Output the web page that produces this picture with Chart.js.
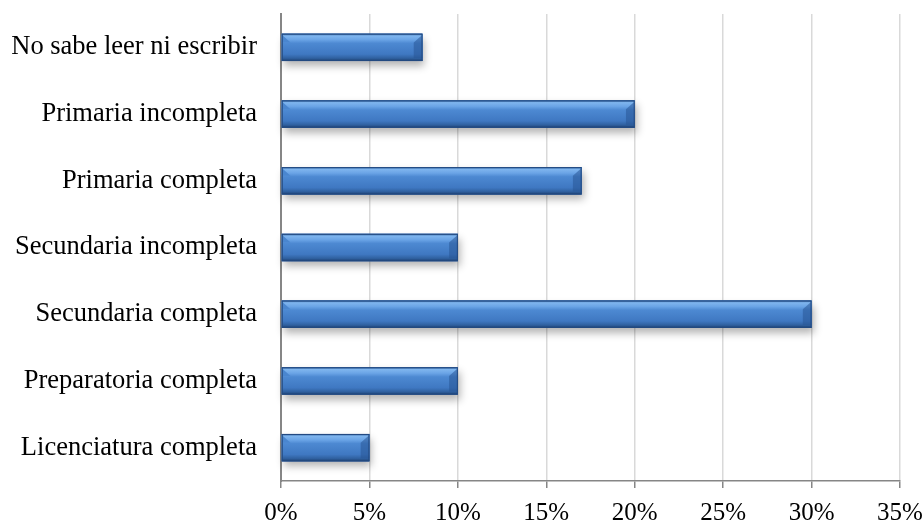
<!DOCTYPE html>
<html>
<head>
<meta charset="utf-8">
<script src="https://cdn.jsdelivr.net/npm/chart.js@4.4.0/dist/chart.umd.min.js"></script>
<style>
  html, body { margin: 0; padding: 0; background: #fff; }
  #wrap { width: 923px; height: 522px; position: relative; }
</style>
</head>
<body>
<div id="wrap"><canvas id="nivel"></canvas></div>
<script>
var categorias = ['No sabe leer ni escribir', 'Primaria incompleta', 'Primaria completa',
    'Secundaria incompleta', 'Secundaria completa', 'Preparatoria completa', 'Licenciatura completa'];
var porcentajes = [8, 20, 17, 10, 30, 10, 5];
var ticksX = [0, 5, 10, 15, 20, 25, 30, 35];

// bevel / gradient look for each bar, drawn over the library's own bar rects
var biselPlugin = {
    id: 'bisel',
    afterDatasetsDraw: function (chart) {
        var ctx = chart.ctx;
        var meta = chart.getDatasetMeta(0);
        meta.data.forEach(function (bar) {
            var x0 = bar.base, x1 = bar.x;
            var h = bar.height, y0 = bar.y - h / 2, y1 = bar.y + h / 2;
            var w = x1 - x0;
            ctx.save();
            ctx.shadowColor = 'rgba(0,0,0,0.3)';
            ctx.shadowBlur = 8;
            ctx.shadowOffsetX = 2;
            ctx.shadowOffsetY = 5;
            ctx.fillStyle = '#3f79c6';
            ctx.fillRect(x0, y0, w, h);
            ctx.restore();

            ctx.save();
            var g = ctx.createLinearGradient(0, y0, 0, y1);
            g.addColorStop(0, '#2a5a98');
            g.addColorStop(0.08, '#7fb5ee');
            g.addColorStop(0.22, '#6aa4e6');
            g.addColorStop(0.35, '#4d89d2');
            g.addColorStop(0.75, '#3f78c2');
            g.addColorStop(0.9, '#2f609f');
            g.addColorStop(1, '#1d3f70');
            ctx.fillStyle = g;
            ctx.fillRect(x0, y0, w, h);

            var b = Math.min(h * 0.32, w / 3);
            // left bevel: light strip starts on a diagonal
            ctx.fillStyle = '#4a86cf';
            ctx.beginPath();
            ctx.moveTo(x0, y0 + 1); ctx.lineTo(x0 + b, y0 + b); ctx.lineTo(x0, y0 + b);
            ctx.closePath(); ctx.fill();
            // right bevel band
            ctx.fillStyle = 'rgba(40,85,150,0.55)';
            ctx.beginPath();
            ctx.moveTo(x1, y0 + 1); ctx.lineTo(x1 - b, y0 + b); ctx.lineTo(x1 - b, y1 - 3); ctx.lineTo(x1, y1 - 3);
            ctx.closePath(); ctx.fill();

            ctx.strokeStyle = '#234a80';
            ctx.lineWidth = 1;
            ctx.strokeRect(x0 + 0.5, y0 + 0.5, w - 1, h - 1);
            ctx.restore();
        });
    }
};

var ctx = document.getElementById('nivel');
var grafico = new Chart(ctx, {
    type: 'bar',
    data: {
        labels: categorias,
        datasets: [{
            data: porcentajes,
            backgroundColor: '#3f79c6',
            borderWidth: 0,
            categoryPercentage: 1,
            barPercentage: 0.41
        }]
    },
    options: {
        indexAxis: 'y',
        responsive: true,
        maintainAspectRatio: false,
        animation: false,
        layout: { padding: { top: 14, right: 23, left: 0, bottom: 0 } },
        plugins: { legend: { display: false }, tooltip: { enabled: false } },
        scales: {
            x: {
                min: 0,
                max: 35,
                afterBuildTicks: function (scale) {
                    scale.ticks = ticksX.map(function (v) { return { value: v }; });
                },
                afterFit: function (scale) { scale.height = 41; scale.paddingLeft = 0; scale.paddingRight = 0; },
                grid: { color: '#d9d9d9', lineWidth: 1.5, tickColor: '#868686', tickLength: 7 },
                border: { color: '#868686', width: 1.5 },
                ticks: {
                    padding: 10,
                    color: '#000',
                    font: { family: 'Liberation Serif', size: 25 },
                    callback: function (v) { return v + '%'; }
                }
            },
            y: {
                afterFit: function (scale) { scale.width = 281; scale.paddingTop = 0; scale.paddingBottom = 0; },
                grid: { display: false, drawTicks: false },
                border: { color: '#868686', width: 2 },
                ticks: {
                    padding: 24,
                    color: '#000',
                    font: { family: 'Liberation Serif', size: 26.5 }
                }
            }
        }
    },
    plugins: [biselPlugin]
});
</script>
</body>
</html>
